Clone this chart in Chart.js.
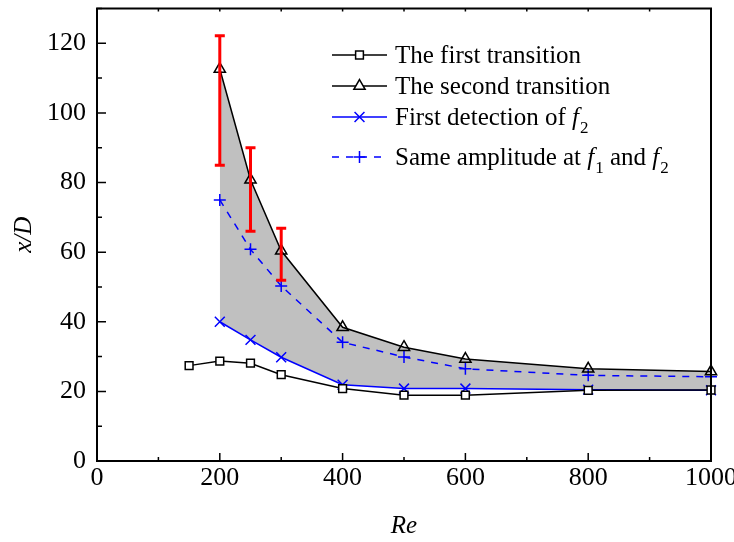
<!DOCTYPE html>
<html>
<head>
<meta charset="utf-8">
<script src="https://cdn.jsdelivr.net/npm/chart.js@4/dist/chart.umd.min.js"></script>
<style>
html,body{margin:0;padding:0;background:#fff;}
canvas{display:block;}
</style>
</head>
<body>
<canvas id="c" width="734" height="542"></canvas>
<script>
// ---- data ----
const reFirst = [150, 200, 250, 300, 400, 500, 600, 800, 1000];
const firstTransition = [27.4, 28.7, 28.1, 24.8, 20.8, 18.9, 18.9, 20.3, 20.4];
const reOthers = [200, 250, 300, 400, 500, 600, 800, 1000];
const secondTransition = [112.6, 80.8, 60.4, 38.4, 32.7, 29.3, 26.5, 25.7];
const firstDetection = [40.0, 34.8, 29.8, 21.9, 20.8, 20.8, 20.5, 20.3];
const sameAmplitude = [75.0, 60.8, 50.3, 34.1, 29.9, 26.5, 24.6, 24.2];
const errRe = [200, 250, 300];
const errLow = [85.0, 66.0, 51.9];
const errHigh = [122.2, 90.0, 66.9];
const xTickValues = [0, 200, 400, 600, 800, 1000];
const yTickValues = [0, 20, 40, 60, 80, 100, 120];

const FONT = "'Liberation Serif', 'Times New Roman', serif";
const BLUE = '#0000ff';

function pts(xs, ys) { return xs.map((x, i) => ({x: x, y: ys[i]})); }

const frameAndExtras = {
  id: 'frameAndExtras',
  afterDatasetsDraw(chart) {
    const ctx = chart.ctx;
    const x = chart.scales.x, y = chart.scales.y;
    // error bars
    ctx.save();
    ctx.strokeStyle = '#ff0000';
    ctx.lineWidth = 3;
    errRe.forEach((r, i) => {
      const px = x.getPixelForValue(r);
      const p1 = y.getPixelForValue(errLow[i]);
      const p2 = y.getPixelForValue(errHigh[i]);
      ctx.beginPath();
      ctx.moveTo(px, p1); ctx.lineTo(px, p2);
      ctx.moveTo(px - 5, p1); ctx.lineTo(px + 5, p1);
      ctx.moveTo(px - 5, p2); ctx.lineTo(px + 5, p2);
      ctx.stroke();
    });
    ctx.restore();
  },
  afterDraw(chart) {
    const ctx = chart.ctx;
    const {left, right, top, bottom} = chart.chartArea;
    const x = chart.scales.x, y = chart.scales.y;
    ctx.save();
    ctx.strokeStyle = '#000';
    ctx.lineWidth = 1.5;
    ctx.beginPath();
    for (let v = x.min; v <= x.max; v += 100) {
      const px = x.getPixelForValue(v);
      const len = xTickValues.includes(v) ? 8 : 4;
      ctx.moveTo(px, bottom); ctx.lineTo(px, bottom - len);
      ctx.moveTo(px, top); ctx.lineTo(px, top + 3);
    }
    for (let v = y.min; v <= y.max; v += 10) {
      const py = y.getPixelForValue(v);
      const len = yTickValues.includes(v) ? 9 : 5;
      ctx.moveTo(left, py); ctx.lineTo(left + len, py);
    }
    ctx.stroke();
    ctx.lineWidth = 2;
    ctx.strokeRect(left, top, right - left, bottom - top);
    ctx.restore();

    // legend
    const items = [
      {y: 55, color: '#000', dash: [], style: 'rect', r: 5.5, fill: '#fff',
        parts: [['The first transition', 'n']]},
      {y: 86, color: '#000', dash: [], style: 'triangle', r: 6.5, fill: '#fff',
        parts: [['The second transition', 'n']]},
      {y: 117, color: BLUE, dash: [], style: 'crossRot', r: 7, fill: BLUE,
        parts: [['First detection of ', 'n'], ['f', 'i'], ['2', 's']]},
      {y: 157, color: BLUE, dash: [7, 7], style: 'cross', r: 6, fill: BLUE,
        parts: [['Same amplitude at ', 'n'], ['f', 'i'], ['1', 's'], [' and ', 'n'], ['f', 'i'], ['2', 's']]}
    ];
    const lx0 = 332, lx1 = 387, tx = 395;
    ctx.save();
    items.forEach(it => {
      ctx.strokeStyle = it.color;
      ctx.lineWidth = 1.5;
      ctx.setLineDash(it.dash);
      ctx.beginPath();
      ctx.moveTo(lx0, it.y); ctx.lineTo(lx1, it.y);
      ctx.stroke();
      ctx.setLineDash([]);
      ctx.fillStyle = it.fill;
      ctx.strokeStyle = it.color;
      ctx.lineWidth = 1.5;
      Chart.helpers.drawPoint(ctx, {pointStyle: it.style, radius: it.r, rotation: 0, borderWidth: 1.5}, (lx0 + lx1) / 2, it.y);
      let cx = tx;
      const base = it.y + 8;
      ctx.fillStyle = '#000';
      ctx.textBaseline = 'alphabetic';
      ctx.textAlign = 'left';
      it.parts.forEach(p => {
        if (p[1] === 'n') {
          ctx.font = "25px " + FONT;
          ctx.fillText(p[0], cx, base);
        } else if (p[1] === 'i') {
          ctx.font = "italic 25px " + FONT;
          ctx.fillText(p[0], cx, base);
        } else {
          ctx.font = "17px " + FONT;
          ctx.fillText(p[0], cx, base + 8);
        }
        cx += ctx.measureText(p[0]).width + (p[1] === 'i' ? 1 : 0);
      });
    });
    ctx.restore();
  }
};

const tickFont = {family: FONT, size: 26};
const titleFont = {family: FONT, size: 25, style: 'italic'};

new Chart(document.getElementById('c'), {
  type: 'line',
  data: {
    datasets: [
      {label: 'The first transition', data: pts(reFirst, firstTransition),
        borderColor: '#000', borderWidth: 1.5, pointStyle: 'rect', pointRadius: 5.5,
        pointBackgroundColor: '#fff', pointBorderColor: '#000', pointBorderWidth: 1.5, fill: false, clip: false},
      {label: 'The second transition', data: pts(reOthers, secondTransition),
        borderColor: '#000', borderWidth: 1.5, pointStyle: 'triangle', pointRadius: 6.5,
        pointBackgroundColor: 'rgba(255,255,255,0)', pointBorderColor: '#000', pointBorderWidth: 1.5,
        fill: '+1', backgroundColor: '#c0c0c0', clip: false},
      {label: 'First detection of f2', data: pts(reOthers, firstDetection),
        borderColor: BLUE, borderWidth: 1.5, pointStyle: 'crossRot', pointRadius: 7,
        pointBorderColor: BLUE, pointBorderWidth: 1.5, fill: false, clip: false},
      {label: 'Same amplitude at f1 and f2', data: pts(reOthers, sameAmplitude),
        borderColor: BLUE, borderWidth: 1.5, borderDash: [7, 7], pointStyle: 'cross', pointRadius: 6,
        pointBorderColor: BLUE, pointBorderWidth: 1.5, fill: false, clip: false}
    ]
  },
  options: {
    responsive: false,
    animation: false,
    events: [],
    layout: {padding: {top: 5, right: 23, left: 0, bottom: 0}},
    elements: {line: {tension: 0}},
    plugins: {
      legend: {display: false},
      tooltip: {enabled: false},
      filler: {drawTime: 'beforeDatasetsDraw'}
    },
    scales: {
      x: {
        type: 'linear', min: 0, max: 1000,
        afterBuildTicks(s) { s.ticks = xTickValues.map(v => ({value: v})); },
        ticks: {font: tickFont, color: '#000', padding: 2, maxRotation: 0, autoSkip: false,
          callback: v => String(v)},
        grid: {display: false, drawTicks: false},
        border: {display: false},
        title: {display: true, text: 'Re', font: titleFont, color: '#000', padding: {top: 0, bottom: 1}},
        afterFit(s) { s.height = 81; s.paddingLeft = 0; s.paddingRight = 0; }
      },
      y: {
        type: 'linear', min: 0, max: 130,
        afterBuildTicks(s) { s.ticks = yTickValues.map(v => ({value: v})); },
        ticks: {font: tickFont, color: '#000', padding: 11, callback: v => String(v)},
        grid: {display: false, drawTicks: false},
        border: {display: false},
        title: {display: true, text: 'x/D', font: titleFont, color: '#000', padding: {top: 9, bottom: 0}},
        afterFit(s) { s.width = 97; s.paddingTop = 0; s.paddingBottom = 0; }
      }
    }
  },
  plugins: [frameAndExtras]
});
</script>
</body>
</html>
